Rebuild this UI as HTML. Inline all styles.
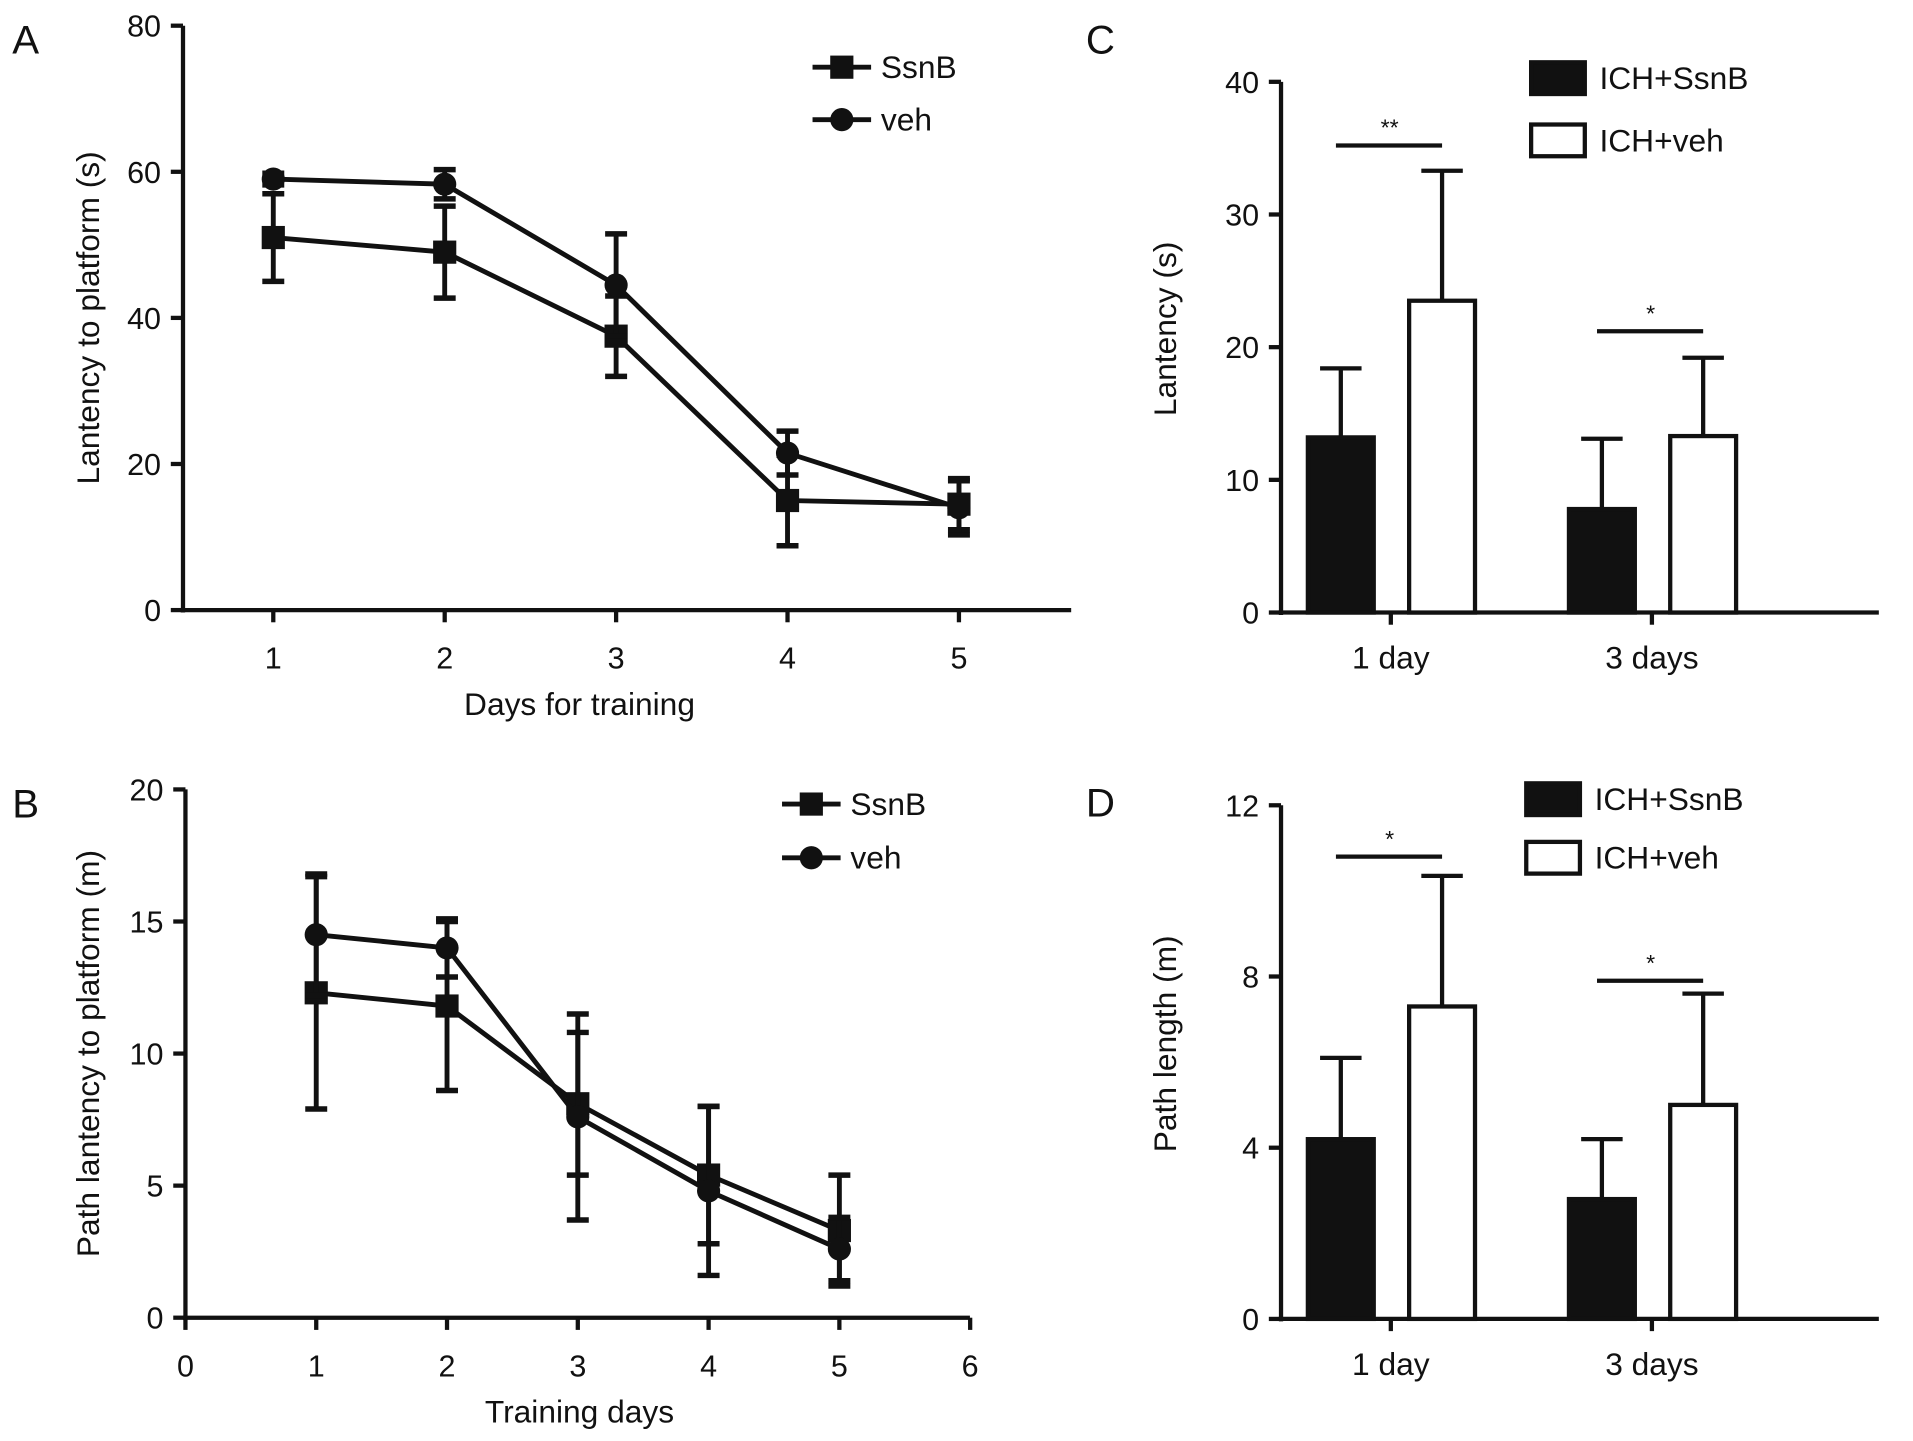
<!DOCTYPE html>
<html><head><meta charset="utf-8"><style>
html,body{margin:0;padding:0;background:#fff}
svg{display:block}
text{font-family:"Liberation Sans",Arial,sans-serif;fill:#111}
</style></head><body>
<svg id="fig" width="1913" height="1441" viewBox="0 0 1568 1181" xmlns="http://www.w3.org/2000/svg"></svg>
<script>
// Panel A data
const aDays=[1,2,3,4,5];
const aSsnB=[51,49,37.5,15,14.5];
const aSsnBsd=[6,6.3,5.5,6.2,3.5];
const aVeh=[59,58.3,44.5,21.5,14];
const aVehSd=[0.8,2,7,3,3.7];
const aYTicks=[0,20,40,60,80];
// Panel B data
const bDays=[1,2,3,4,5];
const bSsnB=[12.3,11.8,8.1,5.4,3.3];
const bSsnBsd=[4.4,3.2,2.7,2.6,2.1];
const bVeh=[14.5,14,7.6,4.8,2.6];
const bVehSd=[2.3,1.1,3.9,3.2,1.2];
const bXTicks=[0,1,2,3,4,5,6];
const bYTicks=[0,5,10,15,20];
// Panel C data
const cCats=["1 day","3 days"];
const cSsnB=[13.2,7.8];
const cSsnBsd=[5.2,5.3];
const cVeh=[23.5,13.3];
const cVehSd=[9.8,5.9];
const cYTicks=[0,10,20,30,40];
const cSig=["**","*"];
const cSigY=[35.2,21.2];
// Panel D data
const dCats=["1 day","3 days"];
const dSsnB=[4.2,2.8];
const dSsnBsd=[1.9,1.4];
const dVeh=[7.3,5.0];
const dVehSd=[3.05,2.6];
const dYTicks=[0,4,8,12];
const dSig=["*","*"];
const dSigY=[10.8,7.9];

const NS="http://www.w3.org/2000/svg";
const svg=document.getElementById('fig');
function el(tag,attrs,parent,txt){const e=document.createElementNS(NS,tag);for(const k in attrs)e.setAttribute(k,attrs[k]);if(txt!==undefined)e.textContent=txt;(parent||svg).appendChild(e);return e;}
function line(x1,y1,x2,y2,w,p){return el('line',{x1,y1,x2,y2,stroke:'#111','stroke-width':w||3.5},p);}

function errBar(g,x,ylo,yhi,cap){line(x,ylo,x,yhi,4,g);line(x-cap,ylo,x+cap,ylo,4.5,g);line(x-cap,yhi,x+cap,yhi,4.5,g);}

function linePanel(o){
  const g=el('g',{});
  
  
  const X=d=>o.x0+(d-o.d0)*o.dx, Y=v=>o.y0-(v)*o.vy;
  line(o.axX,o.yTop,o.axX,o.y0+2,3.5,g);
  line(o.axX-2,o.y0,o.axRight,o.y0,3.5,g);
  o.yTicks.forEach(t=>{line(o.axX-10,Y(t),o.axX,Y(t),3.5,g);
    const tl=el('text',{x:o.axX-18,y:Y(t)+9,'text-anchor':'end','font-size':25},g,String(t));
    });
  o.xTicks.forEach(t=>{line(X(t),o.y0,X(t),o.y0+10,3.5,g);
    const tl=el('text',{x:X(t),y:o.y0+48,'text-anchor':'middle','font-size':25},g,String(t));
    });
  const xt=el('text',{x:o.xTitleX,y:o.y0+86,'text-anchor':'middle','font-size':26},g,o.xTitle);
  
  const ycx=72,ycy=(o.yTop+o.y0)/2;
  const yt=el('text',{x:ycx,y:ycy,'text-anchor':'middle','font-size':26,transform:`rotate(-90 ${ycx} ${ycy}) translate(0 9)`},g,o.yTitle);
  
  const pl=el('text',{x:10,y:o.yTop+23,'font-size':33},g,o.letter);
  
  const series=[[o.ssnb,o.ssnbSd,'square','ssnb'],[o.veh,o.vehSd,'circle','veh']];
  series.forEach(([vals,sd,mk,nm])=>{
    const sg=el('g',{},g);
    
    const pts=o.days.map((d,i)=>X(d)+','+Y(vals[i])).join(' ');
    el('polyline',{points:pts,fill:'none',stroke:'#111','stroke-width':4},sg);
    o.days.forEach((d,i)=>{
      errBar(sg,X(d),Y(vals[i]-sd[i]),Y(vals[i]+sd[i]),9);
      let m;
      if(mk==='square')m=el('rect',{x:X(d)-9.5,y:Y(vals[i])-9.5,width:19,height:19,fill:'#111'},sg);
      else m=el('circle',{cx:X(d),cy:Y(vals[i]),r:9.5,fill:'#111'},sg);
      
    });
  });
  [['SsnB','square',o.legY1],['veh','circle',o.legY2]].forEach(([lab,mk,ly])=>{
    const lg=el('g',{},g);
    
    line(o.legX-24,ly,o.legX+24,ly,4,lg);
    if(mk==='square')el('rect',{x:o.legX-9.5,y:ly-9.5,width:19,height:19,fill:'#111'},lg);
    else el('circle',{cx:o.legX,cy:ly,r:9.5,fill:'#111'},lg);
    el('text',{x:o.legX+32,y:ly+9,'font-size':26},lg,lab);
  });
}

linePanel({name:'panel-a',letter:'A',x0:224,d0:1,dx:140.5,y0:500,vy:(500-21)/80,yTop:21,axX:150,axRight:878,
  yTicks:aYTicks,xTicks:aDays,days:aDays,ssnb:aSsnB,ssnbSd:aSsnBsd,veh:aVeh,vehSd:aVehSd,
  xTitle:'Days for training',xTitleX:475,yTitle:'Lantency to platform (s)',legX:690,legY1:55,legY2:98});
linePanel({name:'panel-b',letter:'B',x0:152,d0:0,dx:107.2,y0:1080,vy:(1080-647)/20,yTop:647,axX:152,axRight:795,
  yTicks:bYTicks,xTicks:bXTicks,days:bDays,ssnb:bSsnB,ssnbSd:bSsnBsd,veh:bVeh,vehSd:bVehSd,
  xTitle:'Training days',xTitleX:475,yTitle:'Path lantency to platform (m)',legX:665,legY1:659,legY2:703});

function barPanel(o){
  const g=el('g',{});
  
  const Y=v=>o.y0-v*o.vy;
  line(1050,o.yTop,1050,o.y0+2,3.5,g);
  line(1048,o.y0,1540,o.y0,3.5,g);
  o.yTicks.forEach(t=>{line(1040,Y(t),1050,Y(t),3.5,g);
    const tl=el('text',{x:1032,y:Y(t)+9,'text-anchor':'end','font-size':25},g,String(t));
    });
  const cx=[1140,1354];
  o.cats.forEach((c,i)=>{line(cx[i],o.y0,cx[i],o.y0+10,3.5,g);
    const tl=el('text',{x:cx[i],y:o.y0+46,'text-anchor':'middle','font-size':26},g,c);
    
    const bw=54;
    const x1=cx[i]-68, x2=cx[i]+15;
    const t1=Y(o.ssnb[i]+o.ssnbSd[i]);
    line(x1+bw/2,Y(o.ssnb[i]),x1+bw/2,t1,3.5,g);line(x1+bw/2-17,t1,x1+bw/2+17,t1,3.5,g);
    const b1=el('rect',{x:x1,y:Y(o.ssnb[i]),width:bw,height:o.ssnb[i]*o.vy,fill:'#111',stroke:'#111','stroke-width':3.5},g);
    
    const top=Y(o.veh[i]+o.vehSd[i]);
    line(x2+bw/2,Y(o.veh[i]),x2+bw/2,top,3.5,g);line(x2+bw/2-17,top,x2+bw/2+17,top,3.5,g);
    const b2=el('rect',{x:x2,y:Y(o.veh[i]),width:bw,height:o.veh[i]*o.vy,fill:'#fff',stroke:'#111','stroke-width':3.5},g);
    
    const sy=Y(o.sigY[i]);
    line(cx[i]-45,sy,cx[i]+42,sy,3.5,g);
    const st=el('text',{x:cx[i]-1,y:sy-8,'text-anchor':'middle','font-size':19},g,o.sig[i]);
    
  });
  const ycx=955,ycy=(o.yTop+o.y0)/2-15;
  const yt=el('text',{x:ycx,y:ycy,'text-anchor':'middle','font-size':26,transform:`rotate(-90 ${ycx} ${ycy}) translate(0 9)`},g,o.yTitle);
  
  const pl=el('text',{x:890,y:o.letterY,'font-size':33},g,o.letter);
  
  [['ICH+SsnB','#111',o.legY1],['ICH+veh','#fff',o.legY2]].forEach(([lab,f,ly])=>{
    const lg=el('g',{},g);
    
    el('rect',{x:o.legX,y:ly-13,width:44,height:26,fill:f,stroke:'#111','stroke-width':3.5},lg);
    el('text',{x:o.legX+56,y:ly+9,'font-size':26},lg,lab);
  });
}
barPanel({name:'panel-c',letter:'C',letterY:44,y0:502,yTop:67,vy:(502-67)/40,yTicks:cYTicks,cats:cCats,
  ssnb:cSsnB,ssnbSd:cSsnBsd,veh:cVeh,vehSd:cVehSd,sig:cSig,sigY:cSigY,yTitle:'Lantency (s)',legX:1255,legY1:64,legY2:115});
barPanel({name:'panel-d',letter:'D',letterY:669,y0:1081,yTop:660,vy:(1081-660)/12,yTicks:dYTicks,cats:dCats,
  ssnb:dSsnB,ssnbSd:dSsnBsd,veh:dVeh,vehSd:dVehSd,sig:dSig,sigY:dSigY,yTitle:'Path length (m)',legX:1251,legY1:655,legY2:703});
</script>
</body></html>
